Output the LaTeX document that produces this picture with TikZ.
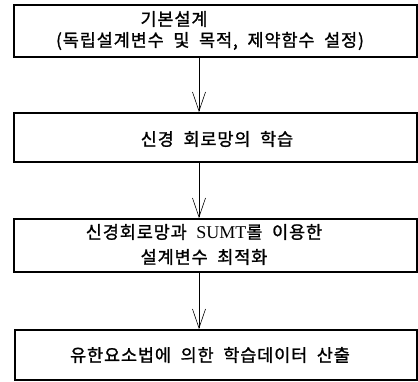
\documentclass[tikz,border=0pt]{standalone}
\usepackage{fontspec}
\setmainfont{Noto Sans CJK KR}[LetterSpace=5,WordSpace=2,FakeBold=1.2]
\newfontfamily\latinserif{Liberation Serif}
\usetikzlibrary{arrows.meta}
\tikzset{
  stepbox/.style={draw, line width=1.1pt},
  txt/.style={font=\fontsize{17.5}{18}\selectfont, inner sep=0pt, anchor=center},
  flow/.style={line width=0.6pt, -{Straight Barb[length=19pt,width=13pt,line width=0.6pt]}}
}
\begin{document}
\begin{tikzpicture}[x=1pt,y=-1pt]
\useasboundingbox (0,0) rectangle (418,382);
% boxes
\draw[stepbox] (14,5) rectangle (417,57);
\coordinate (b1s) at (199,57);
\draw[stepbox] (14,113) rectangle (417,162);
\coordinate (b2n) at (199,112);
\coordinate (b2s) at (199,162);
\draw[stepbox] (14,219) rectangle (417,272);
\coordinate (b3n) at (199,218);
\coordinate (b3s) at (199,272);
\draw[stepbox] (15,330) rectangle (417,380);
\coordinate (b4n) at (199,329);
% texts
\node[txt] (t1a) at (174,19) {기본설계};
\node[txt] (t1b) at (210,41) {(독립설계변수 및 목적, 제약함수 설정)};
\node[txt] (t2) at (217,139) {신경 회로망의 학습};
\node[txt] (t3a) at (204,232) {신경회로망과 {\latinserif\fontsize{18}{18}\selectfont SUMT}롤 이용한};
\node[txt] (t3b) at (204,257) {설계변수 최적화};
\node[txt] (t4) at (210,355) {유한요소법에 의한 학습데이터 산출};
% arrows
\draw[flow] (b1s) -- (b2n);
\draw[flow] (b2s) -- (b3n);
\draw[flow] (b3s) -- (b4n);
\end{tikzpicture}
\end{document}
